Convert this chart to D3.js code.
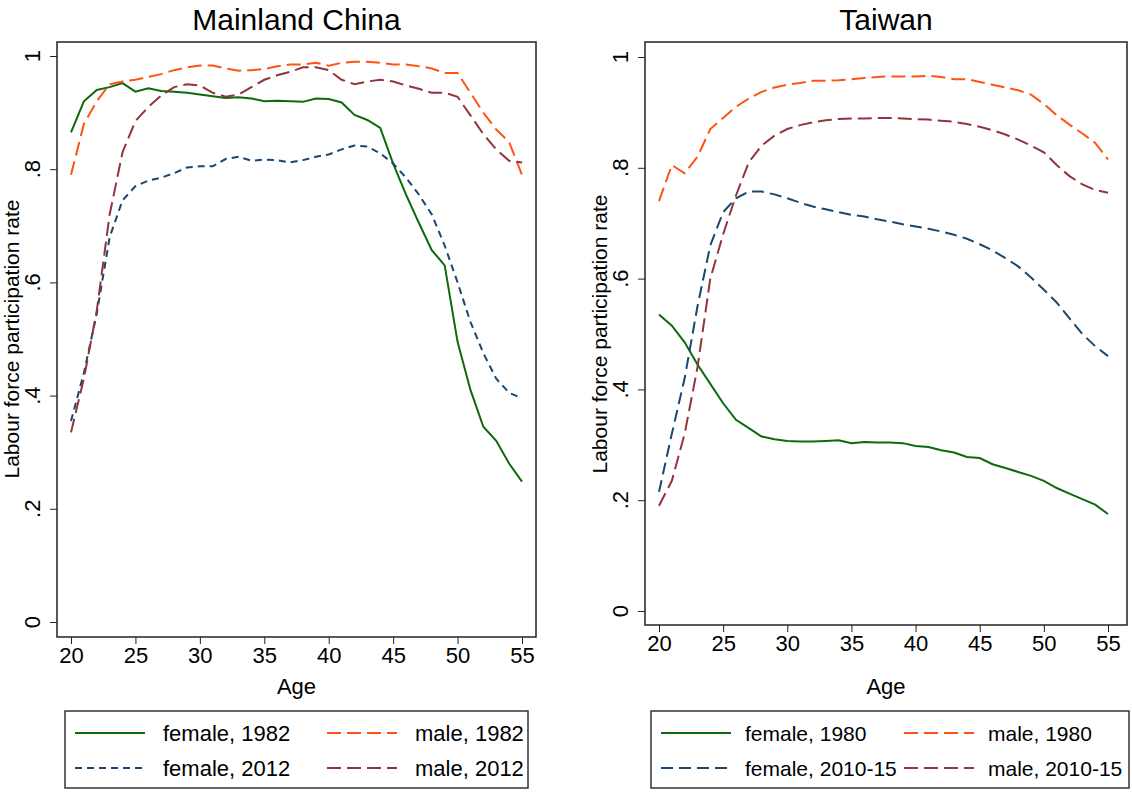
<!DOCTYPE html>
<html><head><meta charset="utf-8">
<script src="https://cdn.jsdelivr.net/npm/d3@7"></script>
<style>body{margin:0;background:#fff}text{font-family:"Liberation Sans",Arial,sans-serif}</style>
</head><body><svg id="c" width="1132" height="792"></svg>
<script>
var ages = d3.range(20, 56);
var xTicks = [20,25,30,35,40,45,50,55];
var yTicks = [0,0.2,0.4,0.6,0.8,1];
var yTickLabels = ["0",".2",".4",".6",".8","1"];

var cnFemale1982 = [.865,.92,.94,.945,.952,.937,.943,.938,.937,.935,.932,.929,.926,.927,.925,.92,.921,.92,.919,.925,.924,.918,.896,.887,.873,.81,.755,.705,.657,.63,.495,.41,.345,.32,.28,.248];
var cnMale1982 = [.79,.88,.92,.95,.955,.958,.963,.968,.975,.98,.983,.983,.978,.974,.975,.977,.982,.985,.985,.988,.983,.988,.99,.99,.988,.985,.985,.982,.978,.97,.97,.935,.9,.87,.848,.79];
var cnFemale2012 = [.355,.44,.545,.68,.745,.77,.78,.785,.793,.803,.805,.805,.818,.822,.815,.817,.816,.812,.816,.822,.826,.835,.842,.84,.828,.81,.785,.755,.72,.665,.6,.53,.475,.43,.405,.395];
var cnMale2012 = [.335,.43,.55,.72,.83,.885,.91,.93,.945,.95,.948,.935,.928,.932,.945,.958,.966,.972,.98,.98,.975,.958,.95,.955,.958,.955,.948,.942,.935,.935,.928,.895,.862,.835,.815,.812];

var twFemale1980 = [.535,.515,.485,.445,.41,.375,.345,.33,.315,.31,.307,.306,.306,.307,.308,.303,.305,.304,.304,.303,.298,.296,.29,.286,.278,.276,.265,.258,.251,.244,.235,.222,.212,.202,.192,.175];
var twMale1980 = [.74,.805,.79,.82,.87,.89,.91,.925,.937,.945,.95,.953,.957,.957,.958,.96,.962,.964,.965,.965,.965,.966,.964,.96,.96,.955,.95,.945,.94,.932,.915,.895,.878,.862,.845,.815];
var twFemale2010 = [.215,.32,.42,.55,.66,.72,.745,.757,.757,.752,.745,.737,.73,.725,.72,.715,.712,.707,.703,.698,.694,.69,.685,.679,.672,.662,.651,.637,.622,.602,.58,.557,.528,.5,.478,.46];
var twMale2010 = [.19,.235,.32,.44,.6,.68,.75,.81,.84,.858,.87,.877,.882,.886,.888,.889,.889,.89,.89,.889,.888,.887,.885,.883,.879,.874,.868,.86,.851,.84,.828,.805,.785,.77,.76,.755];

var GREEN = "#0c6a0c", ORANGE = "#ff5314", NAVY = "#1a476f", MAROON = "#90353b";
var FONT = '"Liberation Sans",Arial,sans-serif';

var svg = d3.select("#c");

function panel(cfg){
	var g = svg.append("g");
	var x = d3.scaleLinear().domain([20,55]).range([cfg.x20, cfg.x55]);
	var y = d3.scaleLinear().domain([0,1]).range([cfg.y0, cfg.y1]);

	g.append("rect").attr("x", cfg.fx0).attr("y", cfg.fy0)
		.attr("width", cfg.fx1 - cfg.fx0).attr("height", cfg.fy1 - cfg.fy0)
		.attr("fill", "none").attr("stroke", "#222").attr("stroke-width", 1.5);

	g.append("text").attr("x", (cfg.fx0 + cfg.fx1)/2).attr("y", 30)
		.attr("text-anchor", "middle").attr("font-size", 30).text(cfg.title);

	// x axis
	var xa = g.append("g").attr("transform", "translate(0," + cfg.fy1 + ")")
		.call(d3.axisBottom(x).tickValues(xTicks).tickSize(7).tickPadding(3));
	xa.select(".domain").remove();
	xa.selectAll("text").attr("font-size", 22).attr("fill", "#000").style("font-family", FONT);
	xa.selectAll("line").attr("stroke", "#222");
	g.append("text").attr("x", (cfg.fx0 + cfg.fx1)/2).attr("y", 694)
		.attr("text-anchor", "middle").attr("font-size", 22).text("Age");

	// y axis
	var ya = g.append("g").attr("transform", "translate(" + cfg.fx0 + ",0)")
		.call(d3.axisLeft(y).tickValues(yTicks).tickSize(7).tickFormat(function(d, i){ return yTickLabels[i]; }));
	ya.select(".domain").remove();
	ya.selectAll("line").attr("stroke", "#222");
	ya.selectAll("text").remove();
	yTicks.forEach(function(t, i){
		g.append("text").attr("transform", "translate(" + (cfg.fx0 - 17) + "," + y(t) + ") rotate(-90)")
			.attr("text-anchor", "middle").attr("font-size", 22).text(yTickLabels[i]);
	});
	g.append("text").attr("transform", "translate(" + (cfg.fx0 - 38) + "," + ((cfg.y0 + cfg.y1)/2) + ") rotate(-90)")
		.attr("text-anchor", "middle").attr("font-size", 21).text("Labour force participation rate");

	var line = d3.line().x(function(d, i){ return x(ages[i]); }).y(function(d){ return y(d); });
	cfg.series.forEach(function(s){
		g.append("path").datum(s.values).attr("d", line).attr("fill", "none")
			.attr("stroke", s.color).attr("stroke-width", 2).attr("stroke-dasharray", s.dash);
	});

	// legend
	var L = cfg.legend;
	g.append("rect").attr("x", L.x0).attr("y", 711).attr("width", L.x1 - L.x0).attr("height", 77)
		.attr("fill", "none").attr("stroke", "#333").attr("stroke-width", 1.5);
	cfg.series.forEach(function(s, i){
		var col = i % 2 === 0 ? 0 : 1, row = Math.floor(i / 2);
		var lx = L.x0 + 10 + col * L.colw, ly = 733 + row * 35;
		g.append("line").attr("x1", lx).attr("x2", lx + 70).attr("y1", ly).attr("y2", ly)
			.attr("stroke", s.color).attr("stroke-width", 2).attr("stroke-dasharray", s.dash);
		g.append("text").attr("x", lx + L.tx).attr("y", ly + 8).attr("font-size", L.fs).text(s.name);
	});
}

panel({
	title: "Mainland China",
	x20: 71, x55: 522, y0: 622, y1: 56,
	fx0: 57, fx1: 536, fy0: 42, fy1: 637,
	legend: {x0: 65, x1: 528, colw: 252, tx: 88, fs: 22},
	series: [
		{name: "female, 1982", values: cnFemale1982, color: GREEN, dash: null},
		{name: "male, 1982", values: cnMale1982, color: ORANGE, dash: "14 6"},
		{name: "female, 2012", values: cnFemale2012, color: NAVY, dash: "7 5"},
		{name: "male, 2012", values: cnMale2012, color: MAROON, dash: "14 6"}
	]
});

panel({
	title: "Taiwan",
	x20: 659, x55: 1108, y0: 611, y1: 57,
	fx0: 645, fx1: 1127, fy0: 42, fy1: 625,
	legend: {x0: 651, x1: 1129, colw: 243, tx: 84, fs: 21},
	series: [
		{name: "female, 1980", values: twFemale1980, color: GREEN, dash: null},
		{name: "male, 1980", values: twMale1980, color: ORANGE, dash: "14 6"},
		{name: "female, 2010-15", values: twFemale2010, color: NAVY, dash: "12 6"},
		{name: "male, 2010-15", values: twMale2010, color: MAROON, dash: "14 6"}
	]
});
</script></body></html>
